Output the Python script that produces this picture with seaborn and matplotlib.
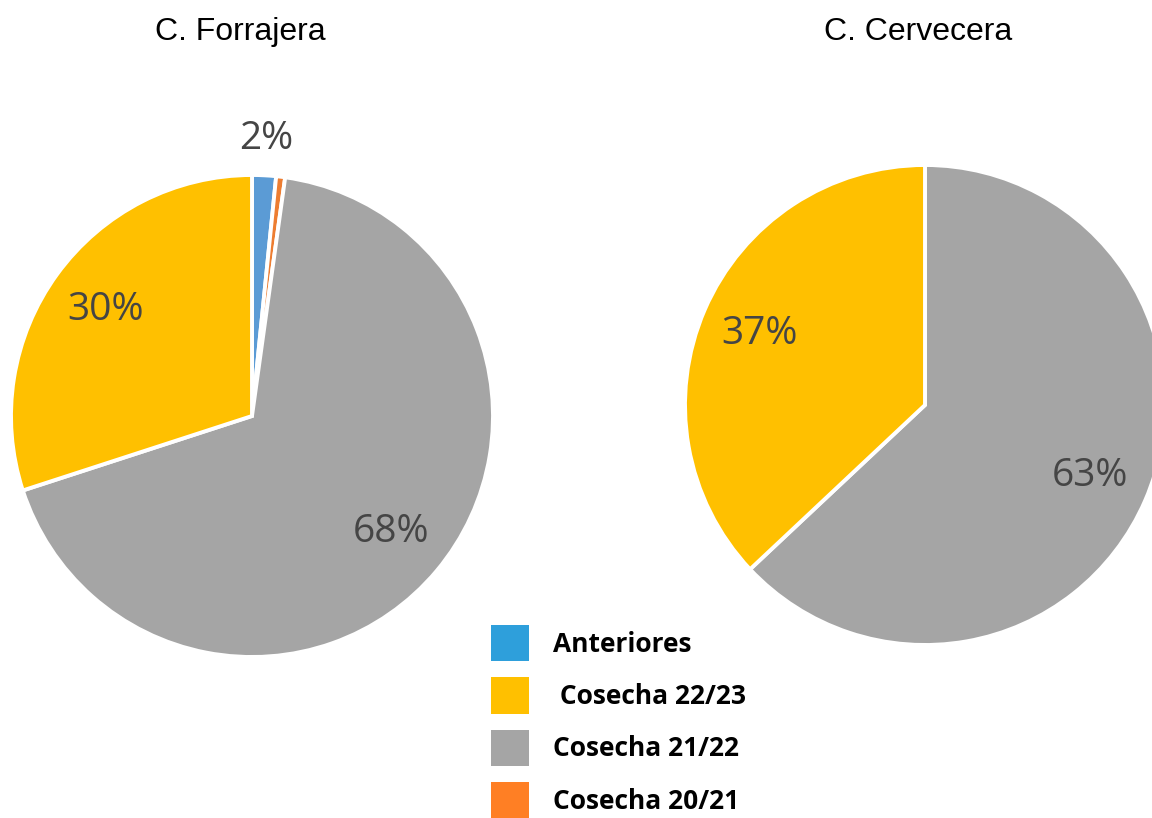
import numpy as np
import seaborn as sns
import matplotlib
matplotlib.use("Agg")
import matplotlib.pyplot as plt
from matplotlib.patches import Patch

# data
categories = ["Anteriores", "Cosecha 20/21", "Cosecha 21/22", "Cosecha 22/23"]
forrajera = [1.6, 0.6, 67.8, 30.0]
cervecera = [0.0, 0.0, 63.0, 37.0]
titles = ["C. Forrajera", "C. Cervecera"]

pie_colors = ["#5B9BD5", "#ED7D31", "#A5A5A5", "#FFC000"]
legend_colors = {"Anteriores": "#2E9FDB", "Cosecha 22/23": "#FFC000",
                 "Cosecha 21/22": "#A5A5A5", "Cosecha 20/21": "#FF7F24"}
legend_order = ["Anteriores", "Cosecha 22/23", "Cosecha 21/22", "Cosecha 20/21"]
legend_labels = ["Anteriores", " Cosecha 22/23", "Cosecha 21/22", "Cosecha 20/21"]

sns.set_theme(style="white")
plt.rcParams["font.family"] = ["Open Sans", "DejaVu Sans"]

W, H = 1152, 818
fig = plt.figure(figsize=(W / 100, H / 100), dpi=100)
fig.patch.set_facecolor("white")


def pie_axes(cx, cy, r):
    ax = fig.add_axes([(cx - r) / W, (H - cy - r) / H, 2 * r / W, 2 * r / H])
    return ax


def draw_pie(ax, values):
    wedges, texts, autotexts = ax.pie(
        values, colors=pie_colors, startangle=90, counterclock=False,
        radius=1, autopct=lambda p: f"{p:.0f}%" if p >= 1 else "",
        pctdistance=0.75, normalize=True,
        wedgeprops=dict(edgecolor="white", linewidth=2.8),
        textprops=dict(fontsize=28, color="#454545"))
    for w, t, v in zip(wedges, autotexts, values):
        if 1 <= v < 5:
            ang = np.deg2rad((w.theta1 + w.theta2) / 2)
            t.set_position((1.15 * np.cos(ang), 1.15 * np.sin(ang)))
    # pie() resets the limits, so set them again afterwards
    ax.set_xlim(-1, 1)
    ax.set_ylim(-1, 1)
    ax.set_aspect("equal")
    ax.axis("off")
    return wedges


ax1 = pie_axes(252, 416, 241)
draw_pie(ax1, forrajera)
ax2 = pie_axes(925, 405, 240)
draw_pie(ax2, cervecera)

title_font = dict(fontsize=23, color="black", ha="center", va="center",
                  family=["Liberation Sans", "DejaVu Sans"])
fig.text(240 / W, 1 - 32 / H, titles[0], **title_font)
fig.text(918 / W, 1 - 32 / H, titles[1], **title_font)

handles = [Patch(facecolor=legend_colors[c], edgecolor="none") for c in legend_order]
leg = fig.legend(handles, legend_labels, loc="upper left",
                 bbox_to_anchor=(491 / W, 1 - 625 / H), frameon=False,
                 borderpad=0, borderaxespad=0, handlelength=1.45, handleheight=1.75,
                 handletextpad=0.9, labelspacing=0.6,
                 prop=dict(family=["Open Sans", "DejaVu Sans"], weight="bold", size=19))
for t in leg.get_texts():
    t.set_color("black")

fig.savefig("out.png", dpi=100, facecolor="white")
